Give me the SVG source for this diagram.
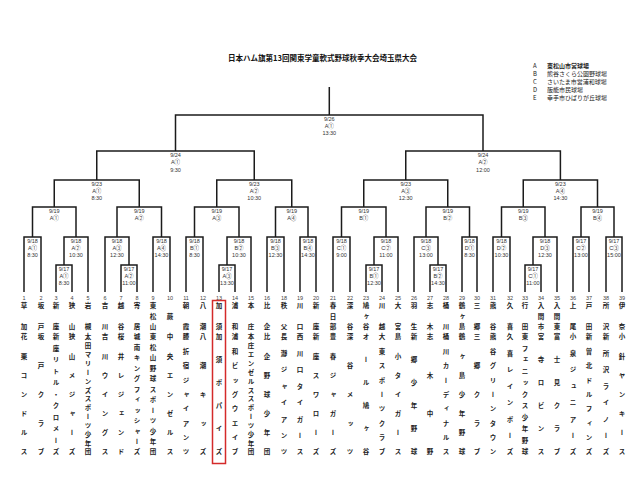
<svg xmlns="http://www.w3.org/2000/svg" width="640" height="480" viewBox="0 0 640 480">
<style>
.ln{fill:none;stroke:#1b1b1b;stroke-width:1.5}
.lb{font-family:"Liberation Sans","Noto Sans CJK JP",sans-serif;font-size:5.5px;fill:#333;text-anchor:middle;dominant-baseline:central}
.nm{font-family:"Liberation Sans",sans-serif;font-size:5.5px;fill:#444;text-anchor:middle;dominant-baseline:central}
.tm{font-family:"Noto Sans CJK JP",sans-serif;font-size:6.5px;font-weight:bold;fill:#222;writing-mode:vertical-rl;text-anchor:middle}
.ttl{font-family:"Noto Sans CJK JP",sans-serif;font-size:7.5px;font-weight:bold;fill:#111;text-anchor:middle;dominant-baseline:central}
.lg{font-family:"Noto Sans CJK JP",sans-serif;font-size:6px;fill:#222;dominant-baseline:central}
.all{opacity:0.999}
</style>
<rect width="640" height="480" fill="#fff"/>
<g class="all">
<text class="ttl" x="322.5" y="57" textLength="189" lengthAdjust="spacing">日本ハム旗第13回関東学童軟式野球秋季大会埼玉県大会</text>
<g id="legend">
<text class="lg" x="533" y="65.5">A</text><text class="lg" x="547" y="65.5" font-weight="bold">東松山市営球場</text>
<text class="lg" x="533" y="73.5">B</text><text class="lg" x="547" y="73.5">熊谷さくら公園野球場</text>
<text class="lg" x="533" y="81.5">C</text><text class="lg" x="547" y="81.5">さいたま市営浦和球場</text>
<text class="lg" x="533" y="89.5">D</text><text class="lg" x="547" y="89.5">飯能市民球場</text>
<text class="lg" x="533" y="97.5">E</text><text class="lg" x="547" y="97.5">幸手市ひばりが丘球場</text>
</g>
<g id="connectors">
<path class="ln" d="M329.3,87V115M175.5,151V115H483V151"/>
<path class="ln" d="M96.75,180V151H254.25V180M405.75,180V151H560.4V180"/>
<path class="ln" d="M54.25,207V180H139.25V207M216.75,207V180H291.75V207M363.75,207V180H447.75V207M523.25,207V180H597.5V207"/>
<path class="ln" d="M32.5,237V207H76V237M117,237V207H161.5V237M194.5,237V207H239V237M275.5,237V207H308V237M341.5,237V207H386V237M426,237V207H469.5V237M501.5,237V207H545V237M581,237V207H614V237"/>
<path class="ln" d="M24,292V237H41V292M64,265V237H88V292M105,292V237H129V265M153,292V237H170V292M186,292V237H203V292M227,265V237H251V292M267,292V237H284V292M300,292V237H316V292M333,292V237H350V292M374,265V237H398V292M414,292V237H438V265M462,292V237H477V292M493,292V237H510V292M533,265V237H557V292M573,292V237H589V292M606,292V237H622V292"/>
<path class="ln" d="M56,292V265H72V292M121,292V265H137V292M219,292V265H235V292M366,292V265H382V292M430,292V265H446V292M525,292V265H541V292"/>
</g>
<g id="m-final"><text class="lb" x="329.3" y="118.5">9/26</text><text class="lb" x="329.3" y="125.5">A①</text><text class="lb" x="329.3" y="133">13:30</text></g>
<g id="m-sf1"><text class="lb" x="175.5" y="155">9/24</text><text class="lb" x="175.5" y="162">A①</text><text class="lb" x="175.5" y="169.5">9:30</text></g>
<g id="m-sf2"><text class="lb" x="483" y="155">9/24</text><text class="lb" x="483" y="162">A②</text><text class="lb" x="483" y="169.5">12:00</text></g>
<g id="m-qf1"><text class="lb" x="96.75" y="184">9/23</text><text class="lb" x="96.75" y="191">A①</text><text class="lb" x="96.75" y="198">8:30</text></g>
<g id="m-qf2"><text class="lb" x="254.25" y="184">9/23</text><text class="lb" x="254.25" y="191">A②</text><text class="lb" x="254.25" y="198">10:30</text></g>
<g id="m-qf3"><text class="lb" x="405.75" y="184">9/23</text><text class="lb" x="405.75" y="191">A③</text><text class="lb" x="405.75" y="198">12:30</text></g>
<g id="m-qf4"><text class="lb" x="560.4" y="184">9/23</text><text class="lb" x="560.4" y="191">A④</text><text class="lb" x="560.4" y="198">14:30</text></g>
<g id="m-r2">
<text class="lb" x="54.25" y="211">9/19</text><text class="lb" x="54.25" y="218">A①</text>
<text class="lb" x="139.25" y="211">9/19</text><text class="lb" x="139.25" y="218">A②</text>
<text class="lb" x="216.75" y="211">9/19</text><text class="lb" x="216.75" y="218">A③</text>
<text class="lb" x="291.75" y="211">9/19</text><text class="lb" x="291.75" y="218">A④</text>
<text class="lb" x="363.75" y="211">9/19</text><text class="lb" x="363.75" y="218">B①</text>
<text class="lb" x="447.75" y="211">9/19</text><text class="lb" x="447.75" y="218">B②</text>
<text class="lb" x="523.25" y="211">9/19</text><text class="lb" x="523.25" y="218">B③</text>
<text class="lb" x="597.5" y="211">9/19</text><text class="lb" x="597.5" y="218">B④</text>
</g>
<g id="m-r1">
<text class="lb" x="32.5" y="241">9/18</text><text class="lb" x="32.5" y="248">A①</text><text class="lb" x="32.5" y="255">8:30</text>
<text class="lb" x="76" y="241">9/18</text><text class="lb" x="76" y="248">A②</text><text class="lb" x="76" y="255">10:30</text>
<text class="lb" x="117" y="241">9/18</text><text class="lb" x="117" y="248">A③</text><text class="lb" x="117" y="255">12:30</text>
<text class="lb" x="161.5" y="241">9/18</text><text class="lb" x="161.5" y="248">A④</text><text class="lb" x="161.5" y="255">14:30</text>
<text class="lb" x="194.5" y="241">9/18</text><text class="lb" x="194.5" y="248">B①</text><text class="lb" x="194.5" y="255">8:30</text>
<text class="lb" x="239" y="241">9/18</text><text class="lb" x="239" y="248">B②</text><text class="lb" x="239" y="255">10:30</text>
<text class="lb" x="275.5" y="241">9/18</text><text class="lb" x="275.5" y="248">B③</text><text class="lb" x="275.5" y="255">12:30</text>
<text class="lb" x="308" y="241">9/18</text><text class="lb" x="308" y="248">B④</text><text class="lb" x="308" y="255">14:30</text>
<text class="lb" x="341.5" y="241">9/18</text><text class="lb" x="341.5" y="248">C①</text><text class="lb" x="341.5" y="255">9:00</text>
<text class="lb" x="386" y="241">9/18</text><text class="lb" x="386" y="248">C②</text><text class="lb" x="386" y="255">11:00</text>
<text class="lb" x="426" y="241">9/18</text><text class="lb" x="426" y="248">C③</text><text class="lb" x="426" y="255">13:00</text>
<text class="lb" x="469.5" y="241">9/18</text><text class="lb" x="469.5" y="248">D①</text><text class="lb" x="469.5" y="255">8:30</text>
<text class="lb" x="501.5" y="241">9/18</text><text class="lb" x="501.5" y="248">D②</text><text class="lb" x="501.5" y="255">10:30</text>
<text class="lb" x="545" y="241">9/18</text><text class="lb" x="545" y="248">D③</text><text class="lb" x="545" y="255">12:30</text>
<text class="lb" x="581" y="241">9/17</text><text class="lb" x="581" y="248">C②</text><text class="lb" x="581" y="255">13:00</text>
<text class="lb" x="614" y="241">9/17</text><text class="lb" x="614" y="248">C③</text><text class="lb" x="614" y="255">15:00</text>
</g>
<g id="m-r0">
<text class="lb" x="64" y="269">9/17</text><text class="lb" x="64" y="276">A①</text><text class="lb" x="64" y="283">8:30</text>
<text class="lb" x="129" y="269">9/17</text><text class="lb" x="129" y="276">A②</text><text class="lb" x="129" y="283">11:00</text>
<text class="lb" x="227" y="269">9/17</text><text class="lb" x="227" y="276">A③</text><text class="lb" x="227" y="283">13:30</text>
<text class="lb" x="374" y="269">9/17</text><text class="lb" x="374" y="276">B①</text><text class="lb" x="374" y="283">12:30</text>
<text class="lb" x="438" y="269">9/17</text><text class="lb" x="438" y="276">B②</text><text class="lb" x="438" y="283">14:30</text>
<text class="lb" x="533" y="269">9/17</text><text class="lb" x="533" y="276">C①</text><text class="lb" x="533" y="283">11:00</text>
</g>
<g id="team1"><text class="nm" x="24" y="298">1</text><text class="tm" x="24" y="306 327">草加</text><text class="tm" x="24" y="337 356.2 375.3 394.5 413.7 432.8 452">花栗コンドルス</text></g>
<g id="team2"><text class="nm" x="41" y="298">2</text><text class="tm" x="41" y="306 327">坂戸</text><text class="tm" x="41" y="337 365.8 394.5 423.3 452">坂戸クラブ</text></g>
<g id="team3"><text class="nm" x="56" y="298">3</text><text class="tm" x="56" y="306 327">新座</text><text class="tm" x="56" y="337 348.5 360 371.5 383 394.5 406 417.5 429 440.5 452">新座リトル・クロメーズ</text></g>
<g id="team4"><text class="nm" x="72" y="298">4</text><text class="tm" x="72" y="306 327">狭山</text><text class="tm" x="72" y="337 356.2 375.3 394.5 413.7 432.8 452">狭山メジャーズ</text></g>
<g id="team5"><text class="nm" x="88" y="298">5</text><text class="tm" x="88" y="306 327">岩槻</text><text class="tm" x="88" y="337 345.8 354.7 363.5 372.4 381.2 390.1 398.9 407.8 416.6 425.5 434.3 443.2 452">太田マリーンズスポーツ少年団</text></g>
<g id="team6"><text class="nm" x="105" y="298">6</text><text class="tm" x="105" y="306 327">吉川</text><text class="tm" x="105" y="337 356.2 375.3 394.5 413.7 432.8 452">吉川ウイングス</text></g>
<g id="team7"><text class="nm" x="121" y="298">7</text><text class="tm" x="121" y="306 327">越谷</text><text class="tm" x="121" y="337 356.2 375.3 394.5 413.7 432.8 452">桜井レジェンド</text></g>
<g id="team8"><text class="nm" x="137" y="298">8</text><text class="tm" x="137" y="306 327">寄居</text><text class="tm" x="137" y="337 347.5 357.9 368.4 378.8 389.3 399.7 410.2 420.6 431.1 441.5 452">城南キングフィッシャーズ</text></g>
<g id="team9"><text class="nm" x="153" y="298">9</text><text class="tm" x="153" y="306 316.5 327">東松山</text><text class="tm" x="153" y="337 347.5 357.9 368.4 378.8 389.3 399.7 410.2 420.6 431.1 441.5 452">東松山野球スポーツ少年団</text></g>
<g id="team10"><text class="nm" x="170" y="298">10</text><text class="tm" x="170" y="316.5">蕨</text><text class="tm" x="170" y="337 356.2 375.3 394.5 413.7 432.8 452">中央エンゼルス</text></g>
<g id="team11"><text class="nm" x="186" y="298">11</text><text class="tm" x="186" y="306 327">朝霞</text><text class="tm" x="186" y="337 351.4 365.8 380.1 394.5 408.9 423.3 437.6 452">膝折宿ジャイアンツ</text></g>
<g id="team12"><text class="nm" x="203" y="298">12</text><text class="tm" x="203" y="306 327">八潮</text><text class="tm" x="203" y="337 365.8 394.5 423.3 452">八潮キッズ</text></g>
<g id="team13"><text class="nm" x="219" y="298">13</text><text class="tm" x="219" y="306 327">加須</text><text class="tm" x="219" y="337 360 383 406 429 452">加須ポパイズ</text><rect x="212.5" y="300.5" width="13" height="163" fill="none" stroke="#d42a2a" stroke-width="1.5"/></g>
<g id="team14"><text class="nm" x="235" y="298">14</text><text class="tm" x="235" y="306 327">浦和</text><text class="tm" x="235" y="337 351.4 365.8 380.1 394.5 408.9 423.3 437.6 452">浦和ビッグウエイブ</text></g>
<g id="team15"><text class="nm" x="251" y="298">15</text><text class="tm" x="251" y="306 327">本庄</text><text class="tm" x="251" y="337 345.8 354.7 363.5 372.4 381.2 390.1 398.9 407.8 416.6 425.5 434.3 443.2 452">本庄エンゼルススポーツ少年団</text></g>
<g id="team16"><text class="nm" x="267" y="298">16</text><text class="tm" x="267" y="306 327">比企</text><text class="tm" x="267" y="337 356.2 375.3 394.5 413.7 432.8 452">比企野球少年団</text></g>
<g id="team18"><text class="nm" x="284" y="298">18</text><text class="tm" x="284" y="306 327">秩父</text><text class="tm" x="284" y="337 353.4 369.9 386.3 402.7 419.1 435.6 452">長瀞ジャイアンツ</text></g>
<g id="team19"><text class="nm" x="300" y="298">19</text><text class="tm" x="300" y="306 327">川口</text><text class="tm" x="300" y="337 353.4 369.9 386.3 402.7 419.1 435.6 452">西川口タイガース</text></g>
<g id="team20"><text class="nm" x="316" y="298">20</text><text class="tm" x="316" y="306 327">新座</text><text class="tm" x="316" y="337 356.2 375.3 394.5 413.7 432.8 452">新座スワローズ</text></g>
<g id="team21"><text class="nm" x="333" y="298">21</text><text class="tm" x="333" y="306 316.5 327">春日部</text><text class="tm" x="333" y="337 356.2 375.3 394.5 413.7 432.8 452">豊春ジャガーズ</text></g>
<g id="team22"><text class="nm" x="350" y="298">22</text><text class="tm" x="350" y="306 327">深谷</text><text class="tm" x="350" y="337 365.8 394.5 423.3 452">深谷メッツ</text></g>
<g id="team23"><text class="nm" x="366" y="298">23</text><text class="tm" x="366" y="306 316.5 327">鳩ヶ谷</text><text class="tm" x="366" y="337 360 383 406 429 452">オール鳩ヶ谷</text></g>
<g id="team24"><text class="nm" x="382" y="298">24</text><text class="tm" x="382" y="306 327">川越</text><text class="tm" x="382" y="337 351.4 365.8 380.1 394.5 408.9 423.3 437.6 452">大東スポーツクラブ</text></g>
<g id="team25"><text class="nm" x="398" y="298">25</text><text class="tm" x="398" y="306 327">大宮</text><text class="tm" x="398" y="337 356.2 375.3 394.5 413.7 432.8 452">島小タイガース</text></g>
<g id="team26"><text class="nm" x="414" y="298">26</text><text class="tm" x="414" y="306 327">羽生</text><text class="tm" x="414" y="337 360 383 406 429 452">新郷少年野球</text></g>
<g id="team27"><text class="nm" x="430" y="298">27</text><text class="tm" x="430" y="306 327">志木</text><text class="tm" x="430" y="337 375.3 413.7 452">志木中野</text></g>
<g id="team28"><text class="nm" x="446" y="298">28</text><text class="tm" x="446" y="306 327">桶川</text><text class="tm" x="446" y="337 351.4 365.8 380.1 394.5 408.9 423.3 437.6 452">桶川カーディナルス</text></g>
<g id="team29"><text class="nm" x="462" y="298">29</text><text class="tm" x="462" y="306 316.5 327">鶴ヶ島</text><text class="tm" x="462" y="337 356.2 375.3 394.5 413.7 432.8 452">鶴ヶ島少年野球</text></g>
<g id="team30"><text class="nm" x="477" y="298">30</text><text class="tm" x="477" y="306 327">三郷</text><text class="tm" x="477" y="337 365.8 394.5 423.3 452">三郷クラブ</text></g>
<g id="team31"><text class="nm" x="493" y="298">31</text><text class="tm" x="493" y="306 327">熊谷</text><text class="tm" x="493" y="337 351.4 365.8 380.1 394.5 408.9 423.3 437.6 452">熊谷グリーンタウン</text></g>
<g id="team32"><text class="nm" x="510" y="298">32</text><text class="tm" x="510" y="306 327">久喜</text><text class="tm" x="510" y="337 353.4 369.9 386.3 402.7 419.1 435.6 452">久喜レインボーズ</text></g>
<g id="team33"><text class="nm" x="525" y="298">33</text><text class="tm" x="525" y="306 327">行田</text><text class="tm" x="525" y="337 348.5 360 371.5 383 394.5 406 417.5 429 440.5 452">東フェニックス少年野球</text></g>
<g id="team34"><text class="nm" x="541" y="298">34</text><text class="tm" x="541" y="306 316.5 327">入間市</text><text class="tm" x="541" y="337 360 383 406 429 452">宮寺ロビンス</text></g>
<g id="team35"><text class="nm" x="557" y="298">35</text><text class="tm" x="557" y="306 316.5 327">入間東</text><text class="tm" x="557" y="337 360 383 406 429 452">富士見クラブ</text></g>
<g id="team36"><text class="nm" x="573" y="298">36</text><text class="tm" x="573" y="306 327">上尾</text><text class="tm" x="573" y="337 353.4 369.9 386.3 402.7 419.1 435.6 452">小泉ジュニアーズ</text></g>
<g id="team37"><text class="nm" x="589" y="298">37</text><text class="tm" x="589" y="306 327">戸田</text><text class="tm" x="589" y="337 351.4 365.8 380.1 394.5 408.9 423.3 437.6 452">新曽北ドルフィンズ</text></g>
<g id="team38"><text class="nm" x="606" y="298">38</text><text class="tm" x="606" y="306 327">所沢</text><text class="tm" x="606" y="337 353.4 369.9 386.3 402.7 419.1 435.6 452">新所沢ライノーズ</text></g>
<g id="team39"><text class="nm" x="622" y="298">39</text><text class="tm" x="622" y="306 327">伊奈</text><text class="tm" x="622" y="337 356.2 375.3 394.5 413.7 432.8 452">小針ヤンキース</text></g>
</g>
</svg>
